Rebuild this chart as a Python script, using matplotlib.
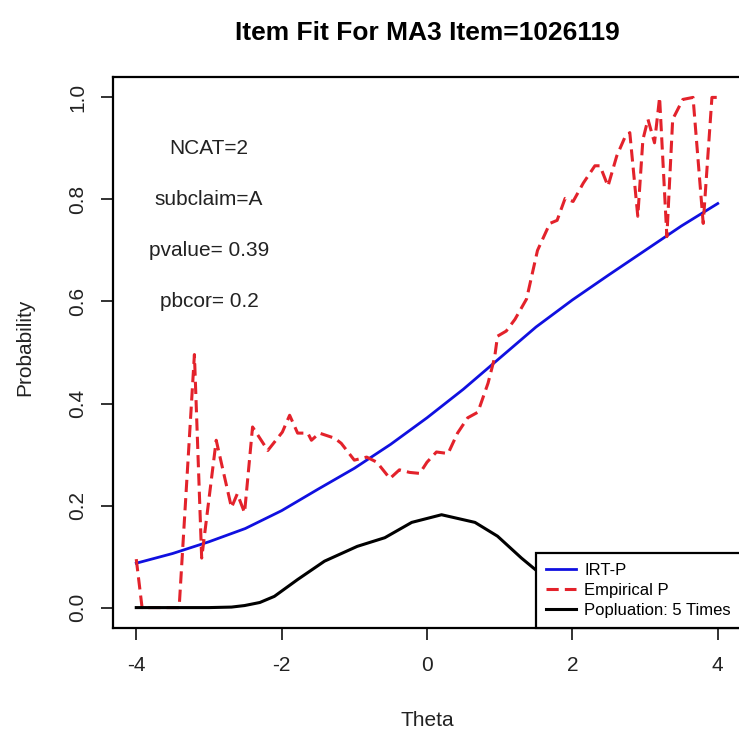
import matplotlib
matplotlib.use("Agg")
import matplotlib.pyplot as plt

plt.rcParams['font.family'] = ['Liberation Sans', 'DejaVu Sans']

# IRT-P model curve, read at theta = -4 .. 4 step 0.5
irt_theta = [-4, -3.5, -3, -2.5, -2, -1.5, -1, -0.5, 0, 0.5, 1, 1.5, 2, 2.5, 3, 3.5, 4]
irt_p = [0.087, 0.106, 0.129, 0.155, 0.190, 0.232, 0.273, 0.320, 0.372,
         0.428, 0.489, 0.550, 0.603, 0.652, 0.700, 0.748, 0.792]

# empirical proportions
emp_theta = [-4.0, -3.92, -3.41, -3.2, -3.1, -2.9, -2.69, -2.61, -2.51, -2.4,
             -2.19, -1.99, -1.89, -1.78, -1.64, -1.59, -1.48, -1.27, -1.18, -1.0,
             -0.83, -0.69, -0.51, -0.38, -0.24, -0.1, 0.0, 0.13, 0.29, 0.42,
             0.56, 0.70, 0.84, 0.93, 0.97, 1.09, 1.21, 1.37, 1.52, 1.69,
             1.79, 1.9, 2.01, 2.15, 2.31, 2.38, 2.49, 2.61, 2.72, 2.79,
             2.9, 2.97, 3.04, 3.13, 3.2, 3.3, 3.38, 3.52, 3.66, 3.8,
             3.92, 4.0]
emp_p = [0.095, 0.0, 0.0, 0.496, 0.097, 0.328, 0.196, 0.223, 0.186, 0.354,
         0.308, 0.344, 0.377, 0.342, 0.342, 0.328, 0.342, 0.332, 0.322, 0.289,
         0.295, 0.285, 0.253, 0.270, 0.265, 0.263, 0.285, 0.305, 0.302, 0.342,
         0.372, 0.383, 0.440, 0.490, 0.532, 0.542, 0.565, 0.605, 0.700, 0.753,
         0.759, 0.802, 0.796, 0.832, 0.866, 0.866, 0.826, 0.885, 0.921, 0.931,
         0.767, 0.917, 0.957, 0.911, 1.0, 0.727, 0.957, 0.996, 1.0, 0.753,
         1.0, 1.0]

# population density (5 times)
pop_theta = [-4, -3.5, -3, -2.69, -2.51, -2.3, -2.1, -1.78, -1.41, -0.96,
             -0.58, -0.21, 0.2, 0.66, 0.97, 1.3, 1.52, 2.0, 2.5, 3.0, 3.5, 4.0]
pop_p = [0.0, 0.0, 0.0, 0.001, 0.004, 0.010, 0.022, 0.055, 0.091, 0.120,
         0.137, 0.167, 0.182, 0.167, 0.140, 0.097, 0.071, 0.040, 0.020, 0.008, 0.002, 0.0]

notes = ["NCAT=2", "subclaim=A", "pvalue= 0.39", "pbcor= 0.2"]
note_y = [0.9, 0.8, 0.7, 0.6]

fig = plt.figure(figsize=(7.39, 7.33), dpi=100)
ax = fig.add_axes([113 / 739, 105 / 733, 628 / 739, 551 / 733])

ax.plot(irt_theta, irt_p, color='#1010e0', lw=2, label='IRT-P')
ax.plot(emp_theta, emp_p, color='#e3222b', lw=2.2, dashes=(4, 2), label='Empirical P')
ax.plot(pop_theta, pop_p, color='black', lw=2.2, label='Popluation: 5 Times')

for t, y in zip(notes, note_y):
    ax.text(-3, y, t, ha='center', va='center', fontsize=15, color='#222222')

ax.set_xlim(-4.32, 4.32)
ax.set_ylim(-0.04, 1.04)
ax.set_xticks([-4, -2, 0, 2, 4])
ax.set_xticklabels(['-4', '-2', '0', '2', '4'])
ax.set_yticks([0.0, 0.2, 0.4, 0.6, 0.8, 1.0])
ax.set_yticklabels(['0.0', '0.2', '0.4', '0.6', '0.8', '1.0'], rotation=90, va='center')
ax.tick_params(length=8.5, width=1.3, labelsize=15, colors='#222222')
ax.tick_params(axis='x', pad=12)
ax.tick_params(axis='y', pad=10)
for s in ax.spines.values():
    s.set_linewidth(1.6)

fig.text(427 / 739, 1 - 721 / 733, 'Theta', ha='center', va='center',
         fontsize=15, color='#222222')
fig.text(25 / 739, 1 - 347 / 733, 'Probability', ha='center', va='center',
         rotation=90, fontsize=15, color='#222222')
fig.text(427 / 739, 1 - 33 / 733, 'Item Fit For MA3 Item=1026119',
         ha='center', va='center', fontsize=19, fontweight='bold')

leg = ax.legend(loc='lower right', fontsize=12, frameon=True, fancybox=False,
                edgecolor='black', framealpha=1, borderaxespad=0,
                handlelength=1.8, handletextpad=0.5, labelspacing=0.3,
                borderpad=0.6)
leg.get_frame().set_linewidth(1.6)

fig.savefig('out.png', dpi=100)
